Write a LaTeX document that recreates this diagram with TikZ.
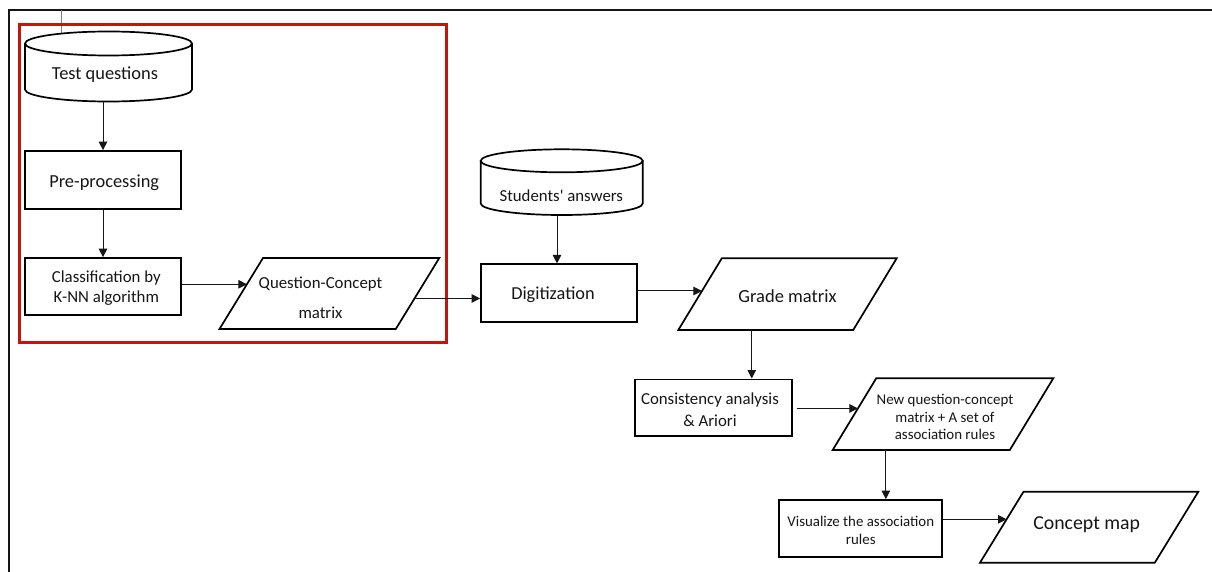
\documentclass[tikz,border=0pt]{standalone}
\usepackage{fontspec}
\setmainfont{Carlito}
\usetikzlibrary{arrows.meta,calc}
\definecolor{framered}{RGB}{192,22,16}
\definecolor{inkc}{RGB}{22,22,22}
\newcommand\setfs[2]{\fontsize{#1}{#2}\selectfont}
\newcommand\drawpara[1]{%
  \coordinate (#1-TL) at ($(#1.north west)+(43.5,0)$);
  \coordinate (#1-TR) at (#1.north east);
  \coordinate (#1-BR) at ($(#1.south east)+(-43.5,0)$);
  \coordinate (#1-BL) at (#1.south west);
  \draw[shapeline] (#1-TL) -- (#1-TR) -- (#1-BR) -- (#1-BL) -- cycle;}
\newcommand\drawcyl[3]{%
  \draw[shapeline] ($(#1.north west)+(0,#3)$) -- ($(#1.south west)+(0,-#3)$)
    arc[start angle=180,end angle=360,x radius=#2pt,y radius=#3pt]
    -- ($(#1.north east)+(0,#3)$);
  \draw[shapeline] ($(#1.north)+(0,#3)$) ellipse[x radius=#2pt,y radius=#3pt];}
\begin{document}
\begin{tikzpicture}[x=1pt,y=-1pt,
  shapeline/.style={draw=black, line width=1.7pt, line join=miter},
  pbox/.style={rectangle, draw=black, line width=1.7pt, inner sep=0pt},
  hbox/.style={rectangle, draw=none, inner sep=0pt, outer sep=0pt},
  txt/.style={inner sep=0pt, align=center, text=inkc},
  arr/.style={draw=inkc, line width=1pt, -{Triangle[length=8.5pt,width=8.5pt]}},
]
\useasboundingbox (0,0) rectangle (1212,572);
\fill[white] (0,0) rectangle (1212,572);
% outer frame
\draw[line width=2pt, inkc] (9,572) -- (9,10.5) -- (1212,10.5);
\draw[gray, line width=1pt] (61,10.5) -- (61,33.5);
% red group
\node[draw=framered, line width=3pt, minimum width=427.7pt, minimum height=317.5pt, inner sep=0pt] (grp) at (232.85,183.75) {};
% cylinders
\node[hbox, minimum width=167pt, minimum height=70pt] (tq) at (108.5,66.5) {};
\drawcyl{tq}{83.5}{12}
\node[hbox, minimum width=162pt, minimum height=65.7pt] (sa) at (561.7,182.15) {};
\drawcyl{sa}{81}{11.5}
% boxes
\node[pbox, minimum width=156pt, minimum height=58pt] (pre) at (103,180) {};
\node[pbox, minimum width=156pt, minimum height=57pt] (cls) at (103,286.5) {};
\node[pbox, minimum width=156pt, minimum height=58pt] (dig) at (559,293.3) {};
\node[pbox, minimum width=156.7pt, minimum height=56.7pt] (cons) at (713.3,407.7) {};
\node[pbox, minimum width=163pt, minimum height=56.7pt] (vis) at (860.8,528.3) {};
% parallelograms
\node[hbox, minimum width=219.8pt, minimum height=71pt] (qc) at (329.4,293.5) {};
\drawpara{qc}
\node[hbox, minimum width=218.4pt, minimum height=71.7pt] (gr) at (787.5,294.15) {};
\drawpara{gr}
\node[hbox, minimum width=220.6pt, minimum height=71.7pt] (nq) at (943,414.15) {};
\drawpara{nq}
\node[hbox, minimum width=218.3pt, minimum height=71pt] (cm) at (1089.15,527.2) {};
\drawpara{cm}
% texts
\node[txt, font=\setfs{18.4}{22}] (tq-t) at (105,74.5) {Test questions};
\node[txt, font=\setfs{16.8}{20}] (sa-t) at (561.3,195.3) {Students\textquotesingle{} answers};
\node[txt, font=\setfs{18.4}{22}] (pre-t) at (104.2,182.5) {Pre-processing};
\node[txt, font=\setfs{16.8}{20}] (cls-t) at (106.3,287.7) {Classification by\\K-NN algorithm};
\node[txt, font=\setfs{16.8}{30}] (qc-t) at (320.5,298) {Question-Concept\\matrix};
\node[txt, font=\setfs{18.3}{22}] (dig-t) at (553,294.8) {Digitization};
\node[txt, font=\setfs{18.5}{22}] (gr-t) at (787.5,295.8) {Grade matrix};
\node[txt, font=\setfs{16.8}{21.7}] (cons-t) at (710,410) {Consistency analysis\\\& Ariori};
\node[txt, font=\setfs{14.9}{17.5}] (nq-t) at (945,417) {New question-concept\\matrix + A set of\\association rules};
\node[txt, font=\setfs{14.9}{18}] (vis-t) at (860.8,530) {Visualize the association\\rules};
\node[txt, font=\setfs{19.8}{24}] (cm-t) at (1086.7,524.8) {Concept map};
% connectors
\draw[arr] (pre.north |- tq.south) -- (pre.north);
\draw[arr] (pre.south) -- (cls.north);
\coordinate (a3) at ($(qc-BL)!0.63!(qc-TL)$);
\draw[arr] (cls.east |- a3) -- (a3);
\coordinate (a4) at ($(qc-BR)!0.43!(qc-TR)$);
\draw[arr] (a4) -- (a4 -| dig.west);
\draw[arr] ($(dig.north |- sa.south)+(-2,0)$) -- ($(dig.north)+(-2,0)$);
\coordinate (a6) at ($(gr-BL)!0.544!(gr-TL)$);
\draw[arr] (dig.east |- a6) -- (a6);
\coordinate (a7) at ($(gr-BL)!0.42!(gr-BR)$);
\draw[arr] (a7) -- (a7 |- cons.north);
\coordinate (a8) at ($(nq-BL)!0.58!(nq-TL)$);
\draw[arr] ($(cons.east |- a8)+(4,0)$) -- (a8);
\coordinate (a9) at ($(nq-BL)!0.3!(nq-BR)$);
\draw[arr] (a9) -- (a9 |- vis.north);
\coordinate (a10) at ($(cm-BL)!0.611!(cm-TL)$);
\draw[arr] (vis.east |- a10) -- (a10);
\end{tikzpicture}
\end{document}
